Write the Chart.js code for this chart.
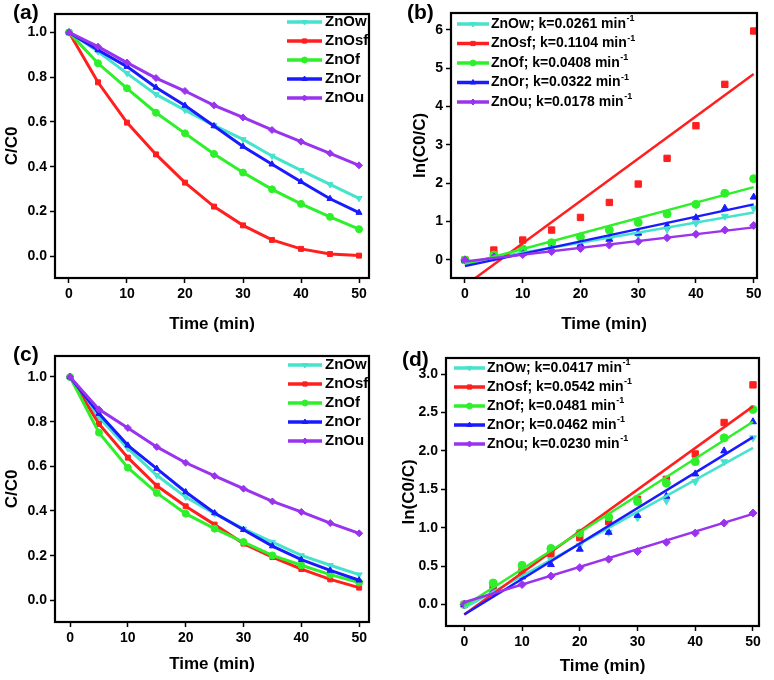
<!DOCTYPE html>
<html>
<head>
<meta charset="utf-8">
<script src="https://cdn.jsdelivr.net/npm/chart.js@4.4.1/dist/chart.umd.min.js"></script>
<style>
  body { margin: 0; background: #fff; }
  #wrap { position: relative; width: 774px; height: 680px; }
  canvas { position: absolute; }
</style>
</head>
<body>
<div id="wrap">
  <canvas id="ca" width="387" height="340" style="left:0;top:0"></canvas>
  <canvas id="cb" width="387" height="340" style="left:387px;top:0"></canvas>
  <canvas id="cc" width="387" height="340" style="left:0;top:340px"></canvas>
  <canvas id="cd" width="387" height="340" style="left:387px;top:340px"></canvas>
</div>
<script>
// ---- data ----
const times = [0, 5, 10, 15, 20, 25, 30, 35, 40, 45, 50]
const names = ['ZnOw', 'ZnOsf', 'ZnOf', 'ZnOr', 'ZnOu']
const colors = ['#45e3cc', '#ff1f1f', '#2ef02a', '#1a1aff', '#9933ee']
const markers = [['triangle', 180], ['rect', 0], ['circle', 0], ['triangle', 0], ['rectRot', 0]]

const xTicks = [0, 10, 20, 30, 40, 50]
const ratioTicks = [0, 0.2, 0.4, 0.6, 0.8, 1.0]
const b_yTicks = [0, 1, 2, 3, 4, 5, 6]
const d_yTicks = [0, 0.5, 1.0, 1.5, 2.0, 2.5, 3.0]

// (a) C/C0
const a_ZnOw  = [1, 0.914, 0.817, 0.723, 0.653, 0.585, 0.522, 0.448, 0.384, 0.321, 0.259]
const a_ZnOsf = [1, 0.777, 0.597, 0.455, 0.329, 0.222, 0.138, 0.073, 0.033, 0.010, 0.003]
const a_ZnOf  = [1, 0.862, 0.750, 0.641, 0.549, 0.457, 0.374, 0.299, 0.234, 0.176, 0.121]
const a_ZnOr  = [1, 0.921, 0.847, 0.754, 0.673, 0.582, 0.490, 0.411, 0.333, 0.257, 0.195]
const a_ZnOu  = [1, 0.936, 0.865, 0.796, 0.738, 0.674, 0.620, 0.564, 0.512, 0.460, 0.406]

// (b) ln(C0/C) + linear fits
const b_ZnOw  = [0, 0.09, 0.20, 0.31, 0.42, 0.53, 0.65, 0.80, 0.96, 1.14, 1.35]
const b_ZnOsf = [0, 0.26, 0.52, 0.78, 1.11, 1.50, 1.98, 2.65, 3.50, 4.58, 5.97]
const b_ZnOf  = [0, 0.13, 0.29, 0.45, 0.60, 0.78, 0.98, 1.20, 1.45, 1.74, 2.12]
const b_ZnOr  = [0, 0.08, 0.17, 0.28, 0.40, 0.54, 0.70, 0.89, 1.10, 1.35, 1.64]
const b_ZnOu  = [0, 0.07, 0.14, 0.22, 0.30, 0.39, 0.48, 0.58, 0.67, 0.78, 0.90]
const b_k     = ['0.0261', '0.1104', '0.0408', '0.0322', '0.0178']
const b_fit0  = [-0.07, -0.67, -0.12, -0.16, -0.04]
const b_fit50 = [1.24, 4.85, 1.90, 1.45, 0.85]

// (c) C/C0
const c_ZnOw  = [1, 0.820, 0.680, 0.560, 0.463, 0.388, 0.320, 0.261, 0.201, 0.157, 0.115]
const c_ZnOsf = [1, 0.790, 0.639, 0.513, 0.421, 0.339, 0.254, 0.194, 0.140, 0.094, 0.057]
const c_ZnOf  = [1, 0.751, 0.594, 0.481, 0.388, 0.321, 0.261, 0.201, 0.157, 0.115, 0.080]
const c_ZnOr  = [1, 0.836, 0.694, 0.590, 0.485, 0.391, 0.316, 0.243, 0.182, 0.134, 0.090]
const c_ZnOu  = [1, 0.855, 0.772, 0.687, 0.616, 0.557, 0.500, 0.443, 0.396, 0.346, 0.300]

// (d) ln(C0/C) + linear fits
const d_ZnOw  = [0, 0.20, 0.39, 0.58, 0.77, 0.94, 1.13, 1.35, 1.60, 1.86, 2.17]
const d_ZnOsf = [0, 0.23, 0.43, 0.66, 0.87, 1.08, 1.37, 1.63, 1.96, 2.37, 2.86]
const d_ZnOf  = [0, 0.28, 0.51, 0.73, 0.93, 1.14, 1.34, 1.58, 1.86, 2.17, 2.54]
const d_ZnOr  = [0, 0.17, 0.36, 0.52, 0.72, 0.94, 1.16, 1.41, 1.70, 2.00, 2.38]
const d_ZnOu  = [0, 0.16, 0.26, 0.37, 0.48, 0.59, 0.69, 0.81, 0.93, 1.06, 1.19]
const d_k     = ['0.0417', '0.0542', '0.0481', '0.0462', '0.0230']
const d_fit0  = [-0.045, -0.13, -0.02, -0.13, 0.03]
const d_fit50 = [2.04, 2.58, 2.38, 2.18, 1.18]

// ---- drawing ----
const FONT = '"Liberation Sans", Arial, Helvetica, sans-serif'
Chart.defaults.font.family = FONT
Chart.defaults.font.weight = 'bold'
Chart.defaults.color = '#000'

const pts = ys => times.map((t, i) => ({x: t, y: ys[i]}))

// frame + panel letter + legend drawn inside the plot
const framePlugin = {
  id: 'frame',
  afterDraw(chart, args, o) {
    const {ctx, chartArea: a} = chart
    ctx.save()
    ctx.strokeStyle = '#000'
    ctx.lineWidth = 2.2
    ctx.strokeRect(a.left, a.top, a.right - a.left, a.bottom - a.top)

    ctx.fillStyle = '#000'
    ctx.textBaseline = 'middle'
    ctx.textAlign = 'left'
    ctx.font = 'bold 21px ' + FONT
    ctx.fillText(o.letter, o.letterX, o.letterY)

    const L = o.legend
    names.forEach((n, i) => {
      const y = L.y + i * L.step
      ctx.strokeStyle = colors[i]
      ctx.fillStyle = colors[i]
      ctx.lineWidth = 3.5
      ctx.beginPath(); ctx.moveTo(L.x0, y); ctx.lineTo(L.x1, y); ctx.stroke()
      ctx.lineWidth = 1
      Chart.helpers.drawPoint(ctx, {pointStyle: markers[i][0], rotation: markers[i][1], radius: 3, borderWidth: 1}, (L.x0 + L.x1) / 2, y)
      ctx.fillStyle = '#000'
      ctx.font = 'bold ' + L.size + 'px ' + FONT
      if (L.k) {
        const txt = n + '; k=' + L.k[i] + ' min'
        ctx.fillText(txt, L.tx, y)
        const w = ctx.measureText(txt).width
        ctx.font = 'bold 9px ' + FONT
        ctx.fillText('-1', L.tx + w + 0.5, y - 5)
      } else {
        ctx.fillText(n, L.tx, y)
      }
    })
    ctx.restore()
  }
}

function makeChart(id, p) {
  const W = 387, H = 340
  new Chart(document.getElementById(id), {
    type: 'line',
    data: {datasets: p.datasets},
    options: {
      responsive: false,
      animation: false,
      devicePixelRatio: 1,
      layout: {padding: {left: 0, top: p.area.top, right: W - p.area.right, bottom: 0}},
      plugins: {
        legend: {display: false},
        tooltip: {enabled: false},
        frame: p.frame
      },
      scales: {
        x: {
          type: 'linear', min: p.x[0], max: p.x[1],
          afterBuildTicks: s => { s.ticks = xTicks.map(v => ({value: v})) },
          afterFit: s => { s.height = H - p.area.bottom },
          grid: {drawOnChartArea: false, tickLength: 5, tickWidth: 1.5, tickColor: '#000'},
          border: {display: false},
          ticks: {font: {size: 14}, padding: 3, maxRotation: 0, callback: v => String(v)},
          title: {display: true, text: 'Time (min)', font: {size: 17}, padding: {bottom: p.xTitlePad}}
        },
        y: {
          type: 'linear', min: p.y[0], max: p.y[1],
          afterBuildTicks: s => { s.ticks = p.yTicks.map(v => ({value: v})) },
          afterFit: s => { s.width = p.area.left },
          grid: {drawOnChartArea: false, tickLength: 5, tickWidth: 1.5, tickColor: '#000'},
          border: {display: false},
          ticks: {font: {size: 14}, padding: 3, callback: p.yFmt},
          title: {display: true, text: p.yTitle, font: {size: 17}, padding: {top: p.yTitlePad}}
        }
      }
    },
    plugins: [framePlugin]
  })
}

function lineSets(series) {
  return series.map((ys, i) => ({
    data: pts(ys),
    borderColor: colors[i], backgroundColor: colors[i],
    borderWidth: 3,
    pointStyle: markers[i][0], rotation: markers[i][1],
    pointRadius: 3.5, pointBorderWidth: 1,
    order: 5 - i
  }))
}

function fitSets(series, f0, f50) {
  const out = []
  series.forEach((ys, i) => {
    out.push({
      data: pts(ys), showLine: false,
      borderColor: colors[i], backgroundColor: colors[i],
      pointStyle: markers[i][0], rotation: markers[i][1],
      pointRadius: markers[i][0] === 'rect' ? 4.5 : 4, pointBorderWidth: 1, order: 10 - i
    })
    out.push({
      data: [{x: 0, y: f0[i]}, {x: 50, y: f50[i]}],
      borderColor: colors[i], borderWidth: 2.5, pointRadius: 0, order: 5 - i
    })
  })
  return out
}

makeChart('ca', {
  datasets: lineSets([a_ZnOw, a_ZnOsf, a_ZnOf, a_ZnOr, a_ZnOu]),
  area: {left: 55, right: 369, top: 14, bottom: 278},
  x: [-2.41, 51.72], y: [-0.097, 1.082],
  yTicks: ratioTicks, yFmt: v => v.toFixed(1), yTitle: 'C/C0',
  xTitlePad: 5, yTitlePad: 2,
  frame: {letter: '(a)', letterX: 13, letterY: 13,
    legend: {x0: 287, x1: 322, tx: 325, y: 22, step: 19, size: 15}}
})

makeChart('cb', {
  datasets: fitSets([b_ZnOw, b_ZnOsf, b_ZnOf, b_ZnOr, b_ZnOu], b_fit0, b_fit50),
  area: {left: 64, right: 370, top: 13, bottom: 278},
  x: [-2.42, 50.57], y: [-0.47, 6.44],
  yTicks: b_yTicks, yFmt: v => String(v), yTitle: 'ln(C0/C)',
  xTitlePad: 5, yTitlePad: 23,
  frame: {letter: '(b)', letterX: 20, letterY: 13,
    legend: {x0: 70, x1: 102, tx: 104, y: 24, step: 19.5, size: 14, k: b_k}}
})

makeChart('cc', {
  datasets: lineSets([c_ZnOw, c_ZnOsf, c_ZnOf, c_ZnOr, c_ZnOu]),
  area: {left: 55, right: 369, top: 16, bottom: 282},
  x: [-2.6, 51.7], y: [-0.097, 1.094],
  yTicks: ratioTicks, yFmt: v => v.toFixed(1), yTitle: 'C/C0',
  xTitlePad: 5, yTitlePad: 2,
  frame: {letter: '(c)', letterX: 13, letterY: 15,
    legend: {x0: 288, x1: 322, tx: 325, y: 25, step: 19, size: 15}}
})

makeChart('cd', {
  datasets: fitSets([d_ZnOw, d_ZnOsf, d_ZnOf, d_ZnOr, d_ZnOu], d_fit0, d_fit50),
  area: {left: 59, right: 372, top: 18, bottom: 286},
  x: [-3.17, 51.04], y: [-0.28, 3.21],
  yTicks: d_yTicks, yFmt: v => v.toFixed(1), yTitle: 'ln(C0/C)',
  xTitlePad: 3, yTitlePad: 12,
  frame: {letter: '(d)', letterX: 15, letterY: 20,
    legend: {x0: 67, x1: 98, tx: 100, y: 28, step: 19, size: 14, k: d_k}}
})
</script>
</body>
</html>
